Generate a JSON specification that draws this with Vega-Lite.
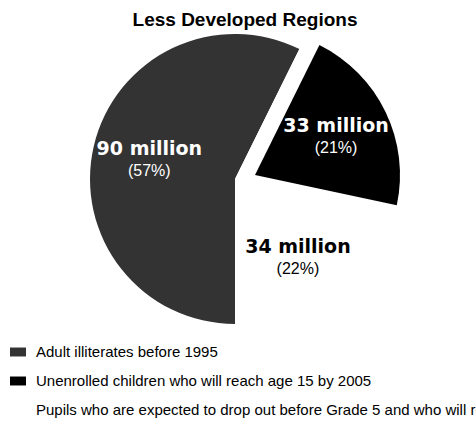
{
  "$schema": "https://vega.github.io/schema/vega-lite/v6.json",
  "width": 470,
  "height": 278,
  "autosize": {"type": "none"},
  "padding": {"left": 0, "top": 40, "right": 6, "bottom": 113},
  "background": "#ffffff",
  "config": {"view": {"stroke": null}},
  "title": {
    "text": "Less Developed Regions",
    "font": "Liberation Sans",
    "fontSize": 19,
    "fontWeight": "bold",
    "color": "#000000",
    "anchor": "middle",
    "dx": 10,
    "offset": 0
  },
  "data": {
    "values": [
      {"category": "Adult illiterates before 1995", "amount": "90 million", "pct": "(57%)", "value": 90, "order": 1},
      {"category": "Unenrolled children who will reach age 15 by 2005", "amount": "33 million", "pct": "(21%)", "value": 33, "order": 2},
      {"category": "Pupils who are expected to drop out before Grade 5 and who will remain illiterate", "amount": "34 million", "pct": "(22%)", "value": 34, "order": 3}
    ]
  },
  "encoding": {
    "theta": {"field": "value", "type": "quantitative", "stack": true, "scale": {"range": [3.14159265, 9.42477796]}},
    "order": {"field": "order", "type": "quantitative"}
  },
  "layer": [
    {
      "mark": {"type": "arc", "outerRadius": 145, "stroke": null},
      "encoding": {
        "color": {
          "field": "category",
          "type": "nominal",
          "sort": ["Adult illiterates before 1995", "Unenrolled children who will reach age 15 by 2005", "Pupils who are expected to drop out before Grade 5 and who will remain illiterate"],
          "scale": {
            "domain": ["Adult illiterates before 1995", "Unenrolled children who will reach age 15 by 2005", "Pupils who are expected to drop out before Grade 5 and who will remain illiterate"],
            "range": ["#333333", "#000000", "#ffffff"]
          },
          "condition": {"test": "datum.order == 2", "value": "#ffffff"},
          "legend": {
            "title": null,
            "orient": "none",
            "legendX": 10,
            "legendY": 304,
            "symbolType": "M-1,-0.56H1V0.56H-1Z",
            "symbolSize": 256,
            "symbolStrokeWidth": 0,
            "labelFont": "Liberation Sans",
            "labelFontSize": 15,
            "labelColor": "#000000",
            "labelLimit": 2000,
            "labelOffset": 10,
            "rowPadding": 13,
            "padding": 0
          }
        }
      }
    },
    {
      "mark": {"type": "arc", "outerRadius": 145, "xOffset": 20, "yOffset": -4, "stroke": null},
      "encoding": {
        "color": {"value": "#000000"},
        "fillOpacity": {"condition": {"test": "datum.order == 2", "value": 1}, "value": 0}
      }
    },
    {
      "mark": {"type": "text", "radius": 88, "dy": -10, "font": "DejaVu Sans", "fontWeight": "bold", "fontSize": 19, "color": "#ffffff"},
      "encoding": {"text": {"condition": {"test": "datum.order == 1", "field": "amount"}, "value": ""}}
    },
    {
      "mark": {"type": "text", "radius": 88, "dy": 12, "font": "Liberation Sans", "fontSize": 16, "color": "#ffffff"},
      "encoding": {"text": {"condition": {"test": "datum.order == 1", "field": "pct"}, "value": ""}}
    },
    {
      "mark": {"type": "text", "radius": 90, "dy": -10, "xOffset": 20, "yOffset": -4, "font": "DejaVu Sans", "fontWeight": "bold", "fontSize": 19, "color": "#ffffff"},
      "encoding": {"text": {"condition": {"test": "datum.order == 2", "field": "amount"}, "value": ""}}
    },
    {
      "mark": {"type": "text", "radius": 90, "dy": 12, "xOffset": 20, "yOffset": -4, "font": "Liberation Sans", "fontSize": 16, "color": "#ffffff"},
      "encoding": {"text": {"condition": {"test": "datum.order == 2", "field": "pct"}, "value": ""}}
    },
    {
      "mark": {"type": "text", "radius": 100, "dy": -10, "font": "DejaVu Sans", "fontWeight": "bold", "fontSize": 19, "color": "#000000"},
      "encoding": {"text": {"condition": {"test": "datum.order == 3", "field": "amount"}, "value": ""}}
    },
    {
      "mark": {"type": "text", "radius": 100, "dy": 12, "font": "Liberation Sans", "fontSize": 16, "color": "#000000"},
      "encoding": {"text": {"condition": {"test": "datum.order == 3", "field": "pct"}, "value": ""}}
    }
  ]
}
